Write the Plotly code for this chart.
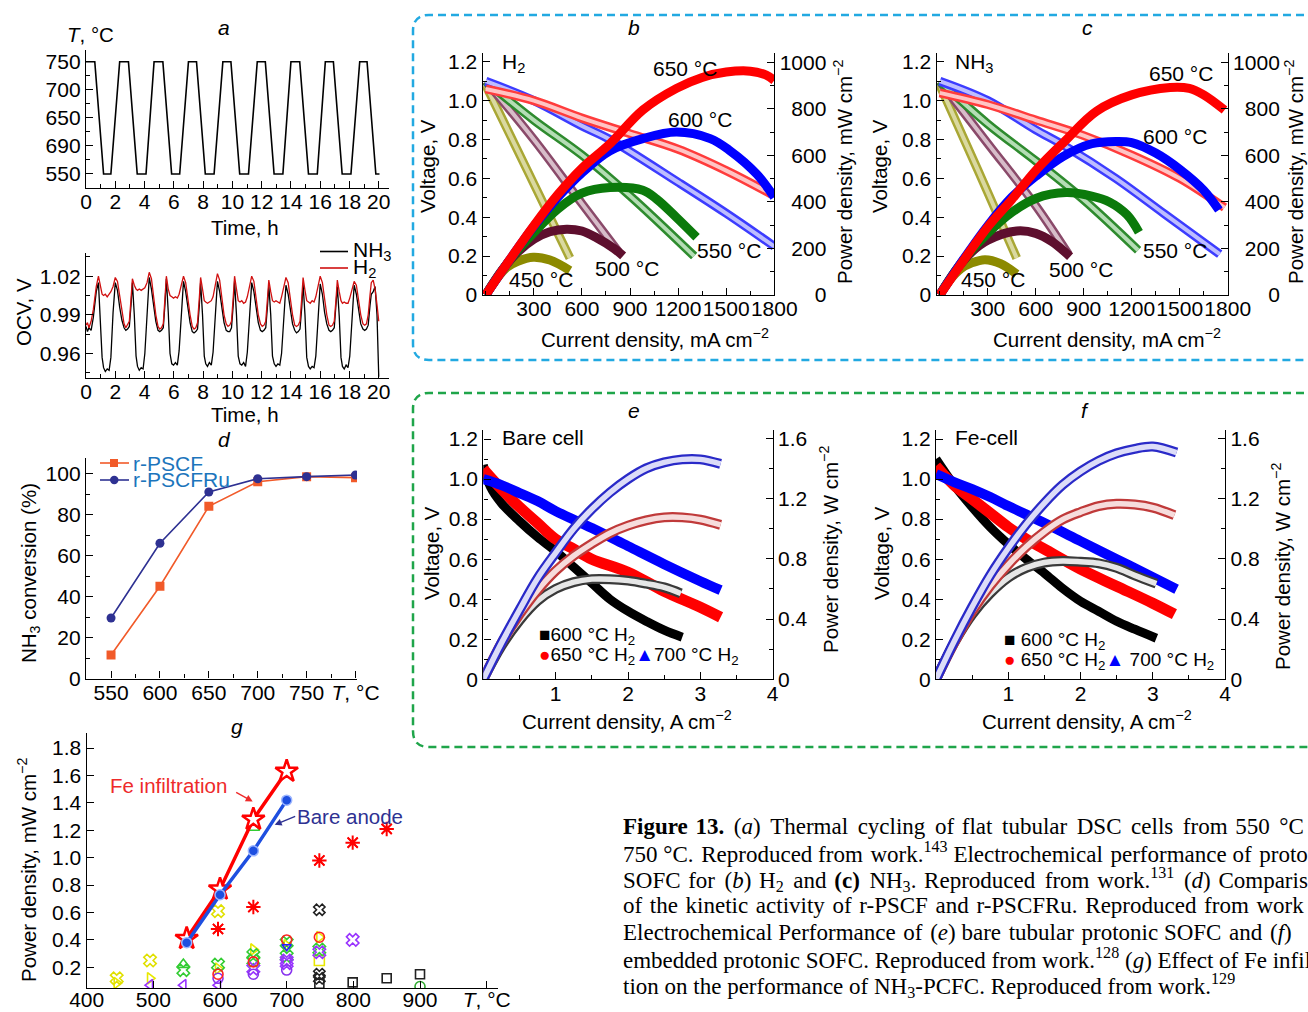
import plotly.graph_objects as go

W, H = 1308, 1012
SANS = "Liberation Sans, Arial, sans-serif"
SERIF = "Liberation Serif, Times New Roman, serif"
TICK = 21
TITLE = 20.5

# ---------------- (a) thermal cycling ----------------
temp_time = [0, 0.6, 1.2, 1.7, 2.3, 2.9, 3.5, 4.1, 4.65, 5.25, 5.85, 6.4, 7.0, 7.55,
             8.15, 8.75, 9.35, 9.9, 10.5, 11.1, 11.7, 12.25, 12.85, 13.45, 14.0, 14.6,
             15.2, 15.8, 16.35, 16.9, 17.5, 18.1, 18.7, 19.2, 19.8, 20.05]
temp_val = [750, 750, 550, 550, 750, 750, 550, 550, 750, 750, 550, 550, 750, 750,
            550, 550, 750, 750, 550, 550, 750, 750, 550, 550, 750, 750,
            550, 550, 750, 750, 550, 550, 750, 750, 550, 550]
temp_tickvals = [550, 600, 650, 700, 750]
temp_ticktext = ["550", "690", "650", "700", "750"]

# ---------------- (a) OCV ----------------
ocv_time = [0, 0.1, 0.2, 0.35, 0.5, 0.7, 0.85, 1.0, 1.1,
            1.2, 1.32, 1.45, 1.58, 1.7, 1.85, 2.0, 2.15, 2.3, 2.45, 2.6, 2.72, 2.84, 2.96, 3.08, 3.17, 3.3, 3.42,
            3.52, 3.64, 3.77, 3.9, 4.02, 4.17, 4.32, 4.47, 4.62, 4.77, 4.92, 5.04, 5.16, 5.28, 5.4, 5.49, 5.62, 5.74,
            5.86, 5.98, 6.11, 6.24, 6.36, 6.51, 6.66, 6.81, 6.96, 7.11, 7.26, 7.38, 7.5, 7.62, 7.74, 7.83, 7.96, 8.08,
            8.18, 8.3, 8.43, 8.56, 8.68, 8.83, 8.98, 9.13, 9.28, 9.43, 9.58, 9.7, 9.82, 9.94, 10.06, 10.15, 10.28, 10.4,
            10.52, 10.64, 10.77, 10.9, 11.02, 11.17, 11.32, 11.47, 11.62, 11.77, 11.92, 12.04, 12.16, 12.28, 12.4, 12.49, 12.62, 12.74,
            12.86, 12.98, 13.11, 13.24, 13.36, 13.51, 13.66, 13.81, 13.96, 14.11, 14.26, 14.38, 14.5, 14.62, 14.74, 14.83, 14.96, 15.08,
            15.2, 15.32, 15.45, 15.58, 15.7, 15.85, 16.0, 16.15, 16.3, 16.45, 16.6, 16.72, 16.84, 16.96, 17.08, 17.17, 17.3, 17.42,
            17.52, 17.64, 17.77, 17.9, 18.02, 18.17, 18.32, 18.47, 18.62, 18.77, 18.92, 19.04, 19.16, 19.28, 19.4, 19.49, 19.62, 19.75, 19.88, 20.0]
ocv_nh3 = [0.981, 0.977, 0.980, 0.978, 0.988, 1.008, 1.015, 0.985, 0.957,
           0.949, 0.946, 0.948, 0.947, 0.957, 0.992, 1.015, 1.009, 0.996, 0.986, 0.980, 0.978, 0.979, 0.981, 0.998, 1.015, 0.990, 0.958,
           0.950, 0.947, 0.949, 0.948, 0.960, 0.995, 1.019, 1.010, 0.995, 0.985, 0.978, 0.977, 0.978, 0.980, 0.999, 1.018, 0.992, 0.960,
           0.952, 0.951, 0.953, 0.951, 0.962, 0.993, 1.016, 1.008, 0.994, 0.984, 0.977, 0.976, 0.977, 0.979, 0.997, 1.015, 0.990, 0.958,
           0.952, 0.950, 0.953, 0.951, 0.961, 0.993, 1.016, 1.008, 0.994, 0.984, 0.978, 0.977, 0.977, 0.980, 0.998, 1.016, 0.990, 0.958,
           0.952, 0.951, 0.953, 0.950, 0.961, 0.992, 1.015, 1.008, 0.994, 0.984, 0.978, 0.977, 0.978, 0.980, 0.997, 1.013, 0.990, 0.958,
           0.952, 0.950, 0.952, 0.951, 0.960, 0.990, 1.013, 1.006, 0.993, 0.983, 0.978, 0.976, 0.977, 0.979, 0.996, 1.014, 0.990, 0.957,
           0.950, 0.948, 0.950, 0.949, 0.958, 0.990, 1.014, 1.006, 0.992, 0.983, 0.978, 0.977, 0.978, 0.980, 0.995, 1.012, 0.989, 0.957,
           0.950, 0.948, 0.951, 0.949, 0.958, 0.990, 1.013, 1.006, 0.993, 0.983, 0.979, 0.978, 0.979, 0.982, 0.997, 1.006, 1.008, 1.012, 0.990, 0.942]
ocv_h2 = [0.982, 0.984, 0.980, 0.985, 0.994, 1.012, 1.020, 1.012, 1.006,
          1.005, 1.006, 1.004, 1.006, 1.008, 1.012, 1.019, 1.016, 1.004, 0.991, 0.983, 0.980, 0.982, 0.985, 1.003, 1.018, 1.013, 1.010,
          1.009, 1.010, 1.009, 1.010, 1.011, 1.015, 1.023, 1.018, 1.004, 0.990, 0.981, 0.979, 0.980, 0.983, 1.004, 1.020, 1.010, 1.005,
          1.004, 1.003, 1.004, 1.003, 1.006, 1.012, 1.020, 1.015, 1.002, 0.990, 0.981, 0.979, 0.980, 0.984, 1.003, 1.019, 1.010, 1.001,
          1.000, 0.999, 1.000, 1.001, 1.004, 1.012, 1.022, 1.017, 1.003, 0.990, 0.983, 0.981, 0.982, 0.985, 1.004, 1.020, 1.010, 1.001,
          1.000, 1.001, 0.999, 1.000, 1.004, 1.011, 1.020, 1.016, 1.003, 0.990, 0.983, 0.981, 0.982, 0.985, 1.003, 1.017, 1.008, 1.001,
          1.000, 1.001, 1.000, 0.999, 1.004, 1.011, 1.019, 1.015, 1.002, 0.990, 0.982, 0.981, 0.982, 0.985, 1.003, 1.019, 1.009, 1.001,
          1.000, 0.999, 1.001, 1.000, 1.004, 1.011, 1.020, 1.015, 1.002, 0.990, 0.982, 0.981, 0.982, 0.985, 1.002, 1.017, 1.008, 1.001,
          0.999, 1.000, 0.999, 0.999, 1.003, 1.010, 1.016, 1.013, 1.002, 0.990, 0.983, 0.982, 0.983, 0.990, 1.005, 1.015, 1.017, 1.010, 0.998, 0.985]

# ---------------- (d) NH3 conversion ----------------
d_temp = [550, 600, 650, 700, 750, 800]
d_pscf = [11.5, 45, 84, 96, 98.5, 98]
d_pscfru = [29.5, 66, 91, 97.5, 98.5, 99.3]

# ---------------- (g) power density vs T ----------------
g_t = [550, 600, 650, 700]
g_fe = [0.41, 0.77, 1.28, 1.63]
g_bare = [0.38, 0.73, 1.05, 1.42]
g_red_ast_t = [597, 650, 749, 799, 850]
g_red_ast_p = [0.48, 0.64, 0.98, 1.11, 1.21]
g_red_circ_t = [550, 597, 650, 700, 749]
g_red_circ_p = [0.39, 0.15, 0.24, 0.40, 0.42]
g_yel_x_t = [445, 495, 597]
g_yel_x_p = [0.12, 0.25, 0.61]
g_yel_tri_t = [445, 495, 597, 650, 700, 749]
g_yel_tri_p = [0.085, 0.12, 0.19, 0.33, 0.36, 0.42]
g_yel_sq_t = [749]
g_yel_sq_p = [0.25]
g_grn_tri_t = [545, 650]
g_grn_tri_p = [0.22, 1.22]
g_grn_x_t = [545, 597, 650, 650, 700, 700, 749]
g_grn_x_p = [0.18, 0.22, 0.29, 0.25, 0.38, 0.28, 0.33]
g_pur_tri_t = [495, 545, 597]
g_pur_tri_p = [0.07, 0.07, 0.07]
g_pur_x_t = [650, 700, 700, 749, 799]
g_pur_x_p = [0.19, 0.25, 0.23, 0.31, 0.40]
g_pur_circ_t = [597, 650, 700]
g_pur_circ_p = [0.12, 0.15, 0.18]
g_blk_x_t = [749, 749, 749]
g_blk_x_p = [0.62, 0.15, 0.12]
g_blk_sq_t = [749, 799, 850, 900]
g_blk_sq_p = [0.08, 0.09, 0.12, 0.15]
g_grn_circ_t = [900]
g_grn_circ_p = [0.06]
g_blu_tri_t = [700]
g_blu_tri_p = [0.35]

# ---------------- (b) H2 fuel ----------------
b_V450_i = [0, 260, 525];                      b_V450 = [1.08, 0.64, 0.19]
b_V500_i = [0, 300, 600, 830];                 b_V500 = [1.10, 0.80, 0.47, 0.22]
b_V550_i = [0, 300, 600, 900, 1300];           b_V550 = [1.10, 0.90, 0.72, 0.51, 0.20]
b_V600_i = [0, 300, 600, 775, 1200, 1500, 1800]; b_V600 = [1.10, 1.00, 0.87, 0.80, 0.58, 0.42, 0.25]
b_V650_i = [0, 300, 600, 900, 1200, 1500, 1780]; b_V650 = [1.06, 1.00, 0.91, 0.83, 0.75, 0.64, 0.52]
b_P650_i = [0, 150, 300, 450, 600, 775, 980, 1190, 1350, 1500, 1650, 1750, 1800]
b_P650 = [0, 152, 298, 432, 545, 650, 795, 888, 935, 958, 962, 945, 922]
b_P600_i = [0, 150, 300, 450, 600, 775, 980, 1190, 1400, 1520, 1690, 1800]
b_P600 = [0, 152, 295, 420, 525, 620, 672, 700, 672, 622, 520, 420]
b_P550_i = [0, 150, 300, 450, 600, 775, 980, 1066, 1190, 1315]
b_P550 = [0, 150, 268, 370, 438, 462, 450, 412, 333, 248]
b_P500_i = [0, 100, 200, 300, 400, 504, 600, 691, 800, 857]
b_P500 = [0, 105, 185, 240, 272, 283, 275, 246, 200, 168]
b_P450_i = [0, 60, 130, 200, 296, 400, 525]
b_P450 = [0, 62, 118, 145, 162, 150, 105]

# ---------------- (c) NH3 fuel ----------------
c_V450_i = [0, 240, 481];                      c_V450 = [1.08, 0.64, 0.19]
c_V500_i = [0, 300, 600, 804];                 c_V500 = [1.10, 0.78, 0.46, 0.21]
c_V550_i = [0, 300, 600, 900, 1240];           c_V550 = [1.10, 0.88, 0.69, 0.49, 0.23]
c_V600_i = [0, 300, 600, 775, 1100, 1400, 1750]; c_V600 = [1.10, 1.00, 0.85, 0.77, 0.60, 0.42, 0.21]
c_V650_i = [0, 300, 600, 900, 1200, 1500, 1780]; c_V650 = [1.04, 0.98, 0.90, 0.82, 0.72, 0.60, 0.45]
c_P650_i = [0, 150, 300, 450, 600, 780, 980, 1200, 1440, 1560, 1650, 1780]
c_P650 = [0, 150, 292, 410, 535, 660, 790, 860, 892, 888, 860, 795]
c_P600_i = [0, 150, 300, 450, 600, 775, 950, 1100, 1200, 1350, 1500, 1650, 1745]
c_P600 = [0, 155, 298, 420, 510, 597, 650, 660, 655, 610, 540, 450, 365]
c_P550_i = [0, 150, 300, 450, 600, 790, 950, 1060, 1170, 1245]
c_P550 = [0, 152, 265, 355, 415, 440, 425, 400, 345, 270]
c_P500_i = [0, 100, 200, 300, 481, 600, 700, 815]
c_P500 = [0, 105, 185, 235, 275, 265, 230, 165]
c_P450_i = [0, 60, 130, 200, 283, 380, 481]
c_P450 = [0, 62, 112, 138, 152, 135, 90]

# ---------------- (e) bare cell ----------------
e_V600_i = [0, 0.1, 0.25, 0.5, 0.75, 1.0, 1.25, 1.5, 1.75, 2.0, 2.25, 2.5, 2.75]
e_V600 = [1.07, 0.96, 0.88, 0.79, 0.71, 0.64, 0.56, 0.48, 0.40, 0.34, 0.29, 0.245, 0.21]
e_V650_i = [0, 0.25, 0.5, 0.75, 1.0, 1.25, 1.5, 2.0, 2.5, 3.0, 3.28]
e_V650 = [1.05, 0.95, 0.86, 0.78, 0.70, 0.65, 0.60, 0.535, 0.44, 0.36, 0.31]
e_V700_i = [0, 0.25, 0.5, 0.75, 1.0, 1.5, 2.0, 2.5, 3.0, 3.28]
e_V700 = [1.00, 0.97, 0.93, 0.89, 0.84, 0.755, 0.665, 0.575, 0.49, 0.445]
e_P600_i = [0, 0.25, 0.5, 0.75, 1.0, 1.25, 1.5, 1.75, 2.0, 2.25, 2.5, 2.73]
e_P600 = [0, 0.22, 0.39, 0.52, 0.60, 0.645, 0.665, 0.665, 0.655, 0.635, 0.61, 0.57]
e_P650_i = [0, 0.25, 0.5, 0.75, 1.0, 1.25, 1.5, 1.75, 2.0, 2.25, 2.5, 2.75, 3.0, 3.28]
e_P650 = [0, 0.24, 0.43, 0.59, 0.72, 0.82, 0.90, 0.97, 1.02, 1.055, 1.075, 1.075, 1.06, 1.025]
e_P700_i = [0, 0.25, 0.5, 0.75, 1.0, 1.25, 1.5, 1.75, 2.0, 2.25, 2.5, 2.75, 3.0, 3.28]
e_P700 = [0, 0.24, 0.46, 0.67, 0.84, 1.00, 1.13, 1.24, 1.33, 1.40, 1.44, 1.46, 1.46, 1.43]

# ---------------- (f) Fe cell ----------------
f_V600_i = [0, 0.25, 0.5, 0.75, 1.0, 1.25, 1.5, 1.75, 2.0, 2.25, 2.5, 2.75, 3.05]
f_V600 = [1.10, 0.97, 0.86, 0.76, 0.675, 0.60, 0.53, 0.455, 0.39, 0.34, 0.29, 0.25, 0.205]
f_V650_i = [0, 0.25, 0.5, 0.75, 1.0, 1.25, 1.5, 2.0, 2.5, 3.0, 3.3]
f_V650 = [1.065, 0.97, 0.90, 0.83, 0.76, 0.70, 0.65, 0.55, 0.465, 0.38, 0.325]
f_V700_i = [0, 0.25, 0.5, 0.75, 1.0, 1.5, 2.0, 2.5, 3.0, 3.33]
f_V700 = [1.025, 0.985, 0.95, 0.91, 0.865, 0.78, 0.69, 0.60, 0.51, 0.45]
f_P600_i = [0, 0.25, 0.5, 0.75, 1.0, 1.25, 1.5, 1.75, 2.0, 2.25, 2.5, 2.75, 3.05]
f_P600 = [0, 0.24, 0.43, 0.57, 0.675, 0.74, 0.775, 0.785, 0.78, 0.77, 0.74, 0.69, 0.635]
f_P650_i = [0, 0.25, 0.5, 0.75, 1.0, 1.25, 1.5, 1.75, 2.0, 2.25, 2.5, 2.75, 3.0, 3.3]
f_P650 = [0, 0.24, 0.45, 0.62, 0.76, 0.88, 0.98, 1.06, 1.11, 1.15, 1.165, 1.16, 1.14, 1.09]
f_P700_i = [0, 0.25, 0.5, 0.75, 1.0, 1.25, 1.5, 1.75, 2.0, 2.25, 2.5, 2.75, 3.0, 3.33]
f_P700 = [0, 0.25, 0.48, 0.69, 0.87, 1.03, 1.17, 1.29, 1.38, 1.45, 1.50, 1.53, 1.545, 1.505]

caption_lines = [
    "<b>Figure 13.</b> (<i>a</i>) Thermal cycling of flat tubular DSC cells from 550 °C",
    "750 °C. Reproduced from work.<sup>143</sup> Electrochemical performance of proto",
    "SOFC for (<i>b</i>) H<sub>2</sub> and <b>(c)</b> NH<sub>3</sub>. Reproduced from work.<sup>131</sup> (<i>d</i>) Comparis",
    "of the kinetic activity of r-PSCF and r-PSCFRu. Reproduced from work",
    "Electrochemical Performance of (<i>e</i>) bare tubular protonic SOFC and (<i>f</i>)",
    "embedded protonic SOFC. Reproduced from work.<sup>128</sup> (<i>g</i>) Effect of Fe infilt",
    "tion on the performance of NH<sub>3</sub>-PCFC. Reproduced from work.<sup>129</sup>",
]
# extra hair spaces per word gap (justified paragraph); last line is not justified
caption_extra = [1.8, 0.5, 1.5, 1.0, 0.7, 0.0, 0.0]

# ====================================================================
def px(x):
    return x / W


def py(y):
    return 1 - y / H


def justify(line, extra):
    parts = line.split(" ")
    out = parts[0]
    for k, p in enumerate(parts[1:]):
        n = int((k + 1) * extra) - int(k * extra)
        out += " " + "\u200A" * n + p
    return out


fig = go.Figure()


def add(x, y, xa, ya, **kw):
    fig.add_trace(go.Scatter(x=x, y=y, xaxis=xa, yaxis=ya, showlegend=False,
                             hoverinfo="skip", **kw))


def band(x, y, xa, ya, color, inner, w_out=9, w_in=4):
    add(x, y, xa, ya, mode="lines", line=dict(color=color, width=w_out, shape="spline"))
    add(x, y, xa, ya, mode="lines", line=dict(color=inner, width=w_in, shape="spline"))


def solid(x, y, xa, ya, color, w=9):
    add(x, y, xa, ya, mode="lines", line=dict(color=color, width=w, shape="spline"))


def axis(x0, x1, rng, anchor, **kw):
    d = dict(domain=[x0, x1], range=rng, anchor=anchor, showline=True, linecolor="black",
             linewidth=1.4, ticks="inside", ticklen=7, tickwidth=1.2, tickcolor="black",
             showgrid=False, zeroline=False, fixedrange=True, automargin=False, tickangle=0,
             tickfont=dict(family=SANS, size=TICK, color="black"))
    d.update(kw)
    return d


def xaxis(*a, standoff=-5, **kw):
    return axis(*a, ticklabelstandoff=standoff, **kw)


def minor(dt, t0=0, ln=4):
    return dict(ticks="inside", ticklen=ln, tickwidth=1, tickcolor="black", dtick=dt, tick0=t0)


def txt(x, y, s, size=TITLE, color="black", xanchor="center", angle=0, family=SANS):
    fig.add_annotation(x=px(x), y=py(y), xref="paper", yref="paper", text=s, showarrow=False,
                       xanchor=xanchor, yanchor="middle", textangle=angle,
                       font=dict(family=family, size=size, color=color))


FS = "\u2007"  # figure space: right-aligns the right-hand tick labels
pw_vals = [0, 200, 400, 600, 800, 1000]
pw_text = [FS * 3 + "0", FS + "200", FS + "400", FS + "600", FS + "800", "1000"]

lay = {}
# (a) temperature
lay["xaxis"] = xaxis(px(86), px(389), [0, 20.7], "y", tickvals=list(range(0, 21, 2)), minor=minor(1))
lay["yaxis"] = axis(py(188), py(50), [525, 771], "x", tickvals=temp_tickvals, ticktext=temp_ticktext,
                    minor=minor(25, 525))
# (a) OCV
lay["xaxis2"] = xaxis(px(86), px(389), [0, 20.7], "y2", tickvals=list(range(0, 21, 2)), minor=minor(1))
lay["yaxis2"] = axis(py(378), py(253), [0.941, 1.038], "x2", tickvals=[0.96, 0.99, 1.02],
                     ticktext=["0.96", "0.99", "1.02"], minor=minor(0.015, 0.96))
# (d)
lay["xaxis3"] = xaxis(px(86), px(357), [524.4, 801.5], "y3", tickvals=d_temp,
                      ticktext=["550", "600", "650", "700", "750", "<i>T</i>, °C"], minor=minor(25, 525))
lay["yaxis3"] = axis(py(678.5), py(458), [0, 107.6], "x3", dtick=20, tick0=0, minor=minor(10))
# (g)
lay["xaxis4"] = xaxis(px(86.7), px(498), [400, 1017], "y4", standoff=-8,
                      tickvals=[400, 500, 600, 700, 800, 900, 1000],
                      ticktext=["400", "500", "600", "700", "800", "900", "<i>T</i>, °C"])
lay["yaxis4"] = axis(py(988.3), py(733), [0.047, 1.91], "x4",
                     tickvals=[0.2, 0.4, 0.6, 0.8, 1.0, 1.2, 1.4, 1.6, 1.8],
                     ticktext=["0.2", "0.4", "0.6", "0.8", "1.0", "1.2", "1.4", "1.6", "1.8"])
# (b)
vt = [0, 0.2, 0.4, 0.6, 0.8, 1.0, 1.2]
vtt = ["0", "0.2", "0.4", "0.6", "0.8", "1.0", "1.2"]
lay["xaxis5"] = xaxis(px(482.7), px(774.3), [-19, 1800], "y5", tickvals=[300, 600, 900, 1200, 1500, 1800],
                      minor=minor(150, 0))
lay["yaxis5"] = axis(py(295), py(53), [0, 1.245], "x5", tickvals=vt, ticktext=vtt, minor=minor(0.1))
lay["yaxis6"] = axis(py(295), py(53), [0, 1040], "x5", overlaying="y5", side="right",
                     tickvals=pw_vals, ticktext=pw_text, minor=minor(100))
# (c)
lay["xaxis6"] = xaxis(px(936.7), px(1227.7), [-19, 1800], "y7", tickvals=[300, 600, 900, 1200, 1500, 1800],
                      minor=minor(150, 0))
lay["yaxis7"] = axis(py(295), py(53), [0, 1.245], "x6", tickvals=vt, ticktext=vtt, minor=minor(0.1))
lay["yaxis8"] = axis(py(295), py(53), [0, 1040], "x6", overlaying="y7", side="right",
                     tickvals=pw_vals, ticktext=pw_text, minor=minor(100))
# (e)
lay["xaxis7"] = xaxis(px(483.3), px(772.7), [0, 4], "y9", tickvals=[1, 2, 3, 4], minor=minor(0.5))
lay["yaxis9"] = axis(py(679.3), py(430), [0, 1.245], "x7", tickvals=vt, ticktext=vtt, minor=minor(0.1))
lay["yaxis10"] = axis(py(679.3), py(430), [0, 1.655], "x7", overlaying="y9", side="right",
                      tickvals=[0, 0.4, 0.8, 1.2, 1.6], ticktext=["0", "0.4", "0.8", "1.2", "1.6"],
                      minor=minor(0.2))
# (f)
lay["xaxis8"] = xaxis(px(936), px(1225), [0, 4], "y11", tickvals=[1, 2, 3, 4], minor=minor(0.5))
lay["yaxis11"] = axis(py(679.3), py(430), [0, 1.245], "x8", tickvals=vt, ticktext=vtt, minor=minor(0.1))
lay["yaxis12"] = axis(py(679.3), py(430), [0, 1.655], "x8", overlaying="y11", side="right",
                      tickvals=[0, 0.4, 0.8, 1.2, 1.6], ticktext=["0", "0.4", "0.8", "1.2", "1.6"],
                      minor=minor(0.2))

# ---------------- traces ----------------
# (a)
add(temp_time, temp_val, "x", "y", mode="lines", line=dict(color="black", width=1.6))
add(ocv_time, ocv_nh3, "x2", "y2", mode="lines", line=dict(color="black", width=1.3))
add(ocv_time, ocv_h2, "x2", "y2", mode="lines", line=dict(color="#D01010", width=1.3))

# (d)
add(d_temp, d_pscf, "x3", "y3", mode="lines+markers", line=dict(color="#F15A29", width=1.6),
    marker=dict(symbol="square", size=9, color="#F15A29"))
add(d_temp, d_pscfru, "x3", "y3", mode="lines+markers", line=dict(color="#2E3192", width=1.6),
    marker=dict(symbol="circle", size=9, color="#2E3192"))


# (g)
def gm(t, p, sym, color, size=10, lw=1.6):
    add(t, p, "x4", "y4", mode="markers",
        marker=dict(symbol=sym, size=size, color=color, line=dict(color=color, width=lw)))


gm(g_yel_tri_t, g_yel_tri_p, "triangle-right-open", "#E8E800")
gm(g_yel_sq_t, g_yel_sq_p, "square-open", "#E8E800")
gm(g_yel_x_t, g_yel_x_p, "x-open", "#E0E000", 11)
gm(g_grn_x_t, g_grn_x_p, "x-open", "#33CC33", 11)
gm(g_grn_tri_t, g_grn_tri_p, "triangle-up-open", "#33CC33", 11)
gm(g_grn_circ_t, g_grn_circ_p, "circle-open", "#33AA33")
gm(g_pur_tri_t, g_pur_tri_p, "triangle-left-open", "#9933FF")
gm(g_pur_x_t, g_pur_x_p, "x-open", "#9933FF", 11)
gm(g_pur_circ_t, g_pur_circ_p, "circle-open", "#8833EE")
gm(g_red_circ_t, g_red_circ_p, "circle-open", "#FF2020")
gm(g_blu_tri_t, g_blu_tri_p, "triangle-down-open", "#2020FF", 8)
gm(g_blk_x_t, g_blk_x_p, "x-open", "#222222", 10)
gm(g_blk_sq_t, g_blk_sq_p, "square-open", "#222222", 9)
gm(g_red_ast_t, g_red_ast_p, "asterisk-open", "#FF0000", 12, 2)
gm(g_red_ast_t, g_red_ast_p, "x-thin-open", "#FF0000", 10, 1.5)
add(g_t, g_fe, "x4", "y4", mode="lines+markers", line=dict(color="#FF0000", width=3.5),
    marker=dict(symbol="star", size=17, color="white", line=dict(color="#FF0000", width=2.5)))
add(g_t, g_bare, "x4", "y4", mode="lines+markers", line=dict(color="#1E4FE0", width=3.5),
    marker=dict(symbol="circle", size=10, color="#1E4FE0", line=dict(color="#9DB6FF", width=1.5)))

# (b) and (c)
C = {
    450: ("#8C8A00", "#A9A735", "#DAD9A0"),
    500: ("#5E0F2E", "#8A4A6A", "#D7BDC9"),
    550: ("#0B7A0B", "#2E8B2E", "#B5DDB5"),
    600: ("#0000FF", "#3C3CFF", "#BDBDFF"),
    650: ("#FF0000", "#FF3C3C", "#FFC4C4"),
}
for xa, ya, yb, V, P in [
    ("x5", "y5", "y6",
     [(450, b_V450_i, b_V450), (500, b_V500_i, b_V500), (550, b_V550_i, b_V550),
      (600, b_V600_i, b_V600), (650, b_V650_i, b_V650)],
     [(450, b_P450_i, b_P450), (500, b_P500_i, b_P500), (550, b_P550_i, b_P550),
      (600, b_P600_i, b_P600), (650, b_P650_i, b_P650)]),
    ("x6", "y7", "y8",
     [(450, c_V450_i, c_V450), (500, c_V500_i, c_V500), (550, c_V550_i, c_V550),
      (600, c_V600_i, c_V600), (650, c_V650_i, c_V650)],
     [(450, c_P450_i, c_P450), (500, c_P500_i, c_P500), (550, c_P550_i, c_P550),
      (600, c_P600_i, c_P600), (650, c_P650_i, c_P650)]),
]:
    for T, xi, yv in V:
        band(xi, yv, xa, ya, C[T][1], C[T][2], 9, 4)
    for T, xi, yv in P:
        solid(xi, yv, xa, yb, C[T][0], 9)

# (e) and (f)
for xa, ya, yb, V, P in [
    ("x7", "y9", "y10",
     [(e_V600_i, e_V600, "#000000", 9), (e_V650_i, e_V650, "#FF0000", 11), (e_V700_i, e_V700, "#0000FF", 10)],
     [(e_P600_i, e_P600, "#3A3A3A", "#E6E6E6"), (e_P650_i, e_P650, "#C03A3A", "#F6DCDC"),
      (e_P700_i, e_P700, "#2A2AC8", "#DCDCF8")]),
    ("x8", "y11", "y12",
     [(f_V600_i, f_V600, "#000000", 9), (f_V650_i, f_V650, "#FF0000", 11), (f_V700_i, f_V700, "#0000FF", 10)],
     [(f_P600_i, f_P600, "#3A3A3A", "#E6E6E6"), (f_P650_i, f_P650, "#C03A3A", "#F6DCDC"),
      (f_P700_i, f_P700, "#2A2AC8", "#DCDCF8")]),
]:
    for xi, yv, col, w in V:
        solid(xi, yv, xa, ya, col, w)
    for xi, yv, col, tint in P:
        band(xi, yv, xa, yb, col, tint, 10, 5.5)

# ---------------- shapes ----------------
shapes = []


def rounded_box(left, top, bottom, right, color, r=16):
    rx, ry = r / W, r / H
    L, R, T, B = px(left), px(right), py(top), py(bottom)
    path = (f"M {R},{T} L {L + rx},{T} Q {L},{T} {L},{T - ry} "
            f"L {L},{B + ry} Q {L},{B} {L + rx},{B} L {R},{B}")
    shapes.append(dict(type="path", path=path, xref="paper", yref="paper",
                       line=dict(color=color, width=2.5, dash="8px,5px")))


rounded_box(413, 15, 360, 1330, "#22A9E1")
rounded_box(413, 393, 747, 1330, "#1FA54A")


def seg(x0, y0, x1, y1, color, w=1.6):
    shapes.append(dict(type="line", xref="paper", yref="paper", x0=px(x0), y0=py(y0),
                       x1=px(x1), y1=py(y1), line=dict(color=color, width=w)))


# OCV legend
seg(320, 251.5, 348, 251.5, "black", 1.6)
seg(320, 268, 348, 268, "#D01010", 1.6)
# (d) legend
seg(100, 463, 129, 463, "#F15A29", 1.6)
seg(100, 480, 129, 480, "#2E3192", 1.6)
shapes.append(dict(type="rect", xref="paper", yref="paper", x0=px(110), x1=px(118), y0=py(467), y1=py(459),
                   fillcolor="#F15A29", line=dict(width=0)))
shapes.append(dict(type="circle", xref="paper", yref="paper", x0=px(110), x1=px(118.5), y0=py(484.2), y1=py(475.8),
                   fillcolor="#2E3192", line=dict(width=0)))

# ---------------- text ----------------
for s, x, y in [("a", 224, 28), ("b", 634, 28), ("c", 1087, 28), ("d", 224, 439),
                ("e", 634, 410), ("f", 1085, 410), ("g", 237, 726)]:
    txt(x, y, f"<i>{s}</i>", 21)

# (a)
txt(90, 34, "<i>T</i>, °C")
txt(245, 227, "Time, h")
txt(245, 414, "Time, h")
txt(23, 312, "OCV, V", angle=-90)
txt(351, 251, "NH<sub>3</sub>", size=21, xanchor="left")
txt(351, 268, "H<sub>2</sub>", size=21, xanchor="left")
# (d)
txt(131, 463, "r-PSCF", size=21, color="#1C75BC", xanchor="left")
txt(131, 480, "r-PSCFRu", size=21, color="#1C75BC", xanchor="left")
txt(30, 573, "NH<sub>3</sub> conversion (%)", angle=-90)
# (g)
txt(27, 870, "Power density, mW cm<sup>−2</sup>", angle=-90)
txt(168, 785, "Fe infiltration", color="#EE2A2A")
txt(350, 816, "Bare anode", color="#2E3192")
fig.add_annotation(x=649, y=1.41, xref="x4", yref="y4", ax=-18, ay=-10, axref="pixel", ayref="pixel",
                   text="", showarrow=True, arrowhead=2, arrowsize=1, arrowwidth=1.4, arrowcolor="#EE2A2A")
fig.add_annotation(x=682, y=1.24, xref="x4", yref="y4", ax=22, ay=-9, axref="pixel", ayref="pixel",
                   text="", showarrow=True, arrowhead=2, arrowsize=1, arrowwidth=1.4, arrowcolor="#2E3192")
# (b)
txt(500, 63, "H<sub>2</sub>", size=21, xanchor="left")
txt(685, 68, "650 °C", size=21)
txt(700, 120, "600 °C", size=21)
txt(729, 250, "550 °C", size=21)
txt(627, 268, "500 °C", size=21)
txt(541, 280, "450 °C", size=21)
txt(655, 338, "Current density, mA cm<sup>−2</sup>")
txt(428, 166, "Voltage, V", angle=-90)
txt(843, 172, "Power density, mW cm<sup>−2</sup>", angle=-90)
# (c)
txt(953, 63, "NH<sub>3</sub>", size=21, xanchor="left")
txt(1181, 73, "650 °C", size=21)
txt(1175, 136, "600 °C", size=21)
txt(1175, 250, "550 °C", size=21)
txt(1081, 269, "500 °C", size=21)
txt(993, 280, "450 °C", size=21)
txt(1107, 338, "Current density, mA cm<sup>−2</sup>")
txt(880, 166, "Voltage, V", angle=-90)
txt(1294, 172, "Power density, mW cm<sup>−2</sup>", angle=-90)
# (e)
txt(500, 438, "Bare cell", size=21, xanchor="left")
txt(537, 636, "<span style='color:black'>■</span>600 °C H<sub>2</sub>", size=19, xanchor="left")
txt(537, 656, "<span style='color:red'>●</span>650 °C H<sub>2</sub><span style='color:blue'>▲</span>700 °C H<sub>2</sub>",
    size=19, xanchor="left")
txt(627, 720, "Current density, A cm<sup>−2</sup>")
txt(431, 553, "Voltage, V", angle=-90)
txt(829, 550, "Power density, W cm<sup>−2</sup>", angle=-90)
# (f)
txt(953, 438, "Fe-cell", size=21, xanchor="left")
txt(1002, 641, "<span style='color:black'>■</span> 600 °C H<sub>2</sub>", size=19, xanchor="left")
txt(1002, 661, "<span style='color:red'>●</span> 650 °C H<sub>2</sub><span style='color:blue'>▲</span> 700 °C H<sub>2</sub>",
    size=19, xanchor="left")
txt(1087, 720, "Current density, A cm<sup>−2</sup>")
txt(881, 553, "Voltage, V", angle=-90)
txt(1281, 567, "Power density, W cm<sup>−2</sup>", angle=-90)

# caption
for i, (line, extra) in enumerate(zip(caption_lines, caption_extra)):
    txt(621, 826 + i * 26.5, justify(line, extra), size=23, xanchor="left", family=SERIF)

fig.update_layout(width=W, height=H, margin=dict(l=0, r=0, t=0, b=0), template="none",
                  paper_bgcolor="white", plot_bgcolor="white", showlegend=False,
                  font=dict(family=SANS, size=19, color="black"), shapes=shapes, **lay)

fig.write_html("out.html")
